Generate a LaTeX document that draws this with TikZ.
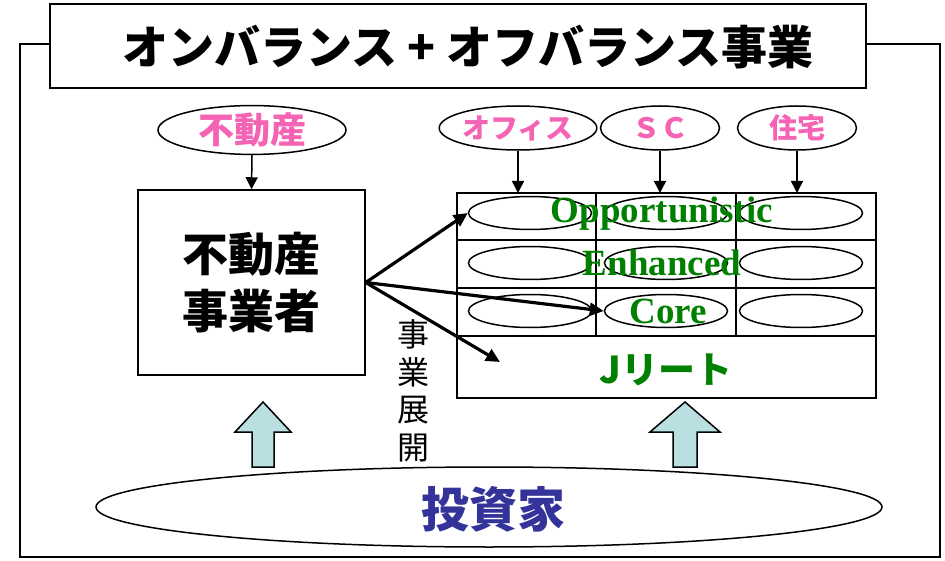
\documentclass[tikz,border=0pt]{standalone}
\usepackage{fontspec}
\setmainfont{Liberation Serif}
\newfontfamily\jp{Noto Sans CJK JP}
\usetikzlibrary{shapes.geometric,arrows.meta}
\definecolor{pinkt}{RGB}{245,100,180}
\definecolor{greent}{RGB}{0,128,0}
\definecolor{bluet}{RGB}{51,51,153}
\definecolor{arrowfill}{RGB}{185,223,224}
\tikzset{
  frame/.style={draw=black, line width=1.5pt},
  titlebox/.style={draw=black, line width=2pt, minimum width=816pt, minimum height=84pt, inner sep=0pt},
  titletext/.style={inner sep=0pt, font=\jp\bfseries\fontsize{46}{50}\selectfont},
  topell/.style={draw=black, line width=1.5pt, ellipse, inner sep=0pt, minimum height=44pt,
     font=\jp\bfseries\fontsize{28}{32}\selectfont, text=pinkt},
  devbox/.style={draw=black, line width=1.5pt, minimum width=227pt, minimum height=185pt, inner sep=0pt,
     align=center, font=\jp\bfseries\fontsize{46}{57}\selectfont},
  smallell/.style={draw=black, line width=1.5pt, ellipse, inner sep=0pt, minimum width=123pt, minimum height=33pt},
  gridline/.style={draw=black, line width=1.8pt},
  lat/.style={text=greent, font=\bfseries\fontsize{37}{40}\selectfont, inner sep=0pt},
  thin arrow/.style={draw=black, line width=1.5pt, -{Triangle[length=12pt,width=12pt]}},
  thick arrow/.style={draw=black, line width=3.2pt, -{Triangle[length=14pt,width=13pt]}},
  blockarrow/.style={draw=black, line width=1.5pt, fill=arrowfill},
}
\begin{document}
\begin{tikzpicture}[x=1pt,y=-1pt]
\useasboundingbox (0,0) rectangle (945,561);
% outer frame
\draw[frame] (50,44) -- (20,44) -- (20,557) -- (940,557) -- (940,44) -- (866,44);
\node[titlebox] (title) at (458,46) {};
\node[titletext] (titlet) at (468,47) {オンバランス + オフバランス事業};

% left part
\node[topell, minimum width=188pt, font=\jp\bfseries\fontsize{36}{40}\selectfont] (fudosan) at (252,130) {不動産};
\node[devbox] (dev) at (251.5,282.5) {不動産\\事業者};
\draw[thin arrow] (fudosan.south) -- (dev.north);

% top ellipses
\node[topell, minimum width=117pt] (office) at (518,128) {オフィス};
\node[topell, minimum width=119pt] (sc) at (660,128) {ＳＣ};
\node[topell, minimum width=119pt] (jutaku) at (797,128) {住宅};

% grid
\coordinate (gtop) at (457,193);
\draw[gridline] (gtop) rectangle (876,398);
\draw[gridline] (457,240) -- (876,240);
\draw[gridline] (457,288) -- (876,288);
\draw[gridline] (457,336) -- (876,336);
\draw[gridline] (596,193) -- (596,336);
\draw[gridline] (736,193) -- (736,336);

\draw[thin arrow] (office.south) -- (office.south |- gtop);
\draw[thin arrow] (sc.south) -- (sc.south |- gtop);
\draw[thin arrow] (jutaku.south) -- (jutaku.south |- gtop);

\node[smallell] (e11) at (530,213) {};
\node[smallell] (e12) at (666,213) {};
\node[smallell] (e13) at (801,213) {};
\node[smallell] (e21) at (530,263) {};
\node[smallell] (e22) at (666,263) {};
\node[smallell] (e23) at (801,263) {};
\node[smallell] (e31) at (530,311) {};
\node[smallell] (e32) at (666,311) {};
\node[smallell] (e33) at (801,311) {};

\node[lat] (opp) at (662,214) {Opportunistic};
\node[lat] (enh) at (662,263) {Enhanced};
\node[lat] (core) at (668,311) {Core};
\node[text=greent, font=\jp\bfseries\fontsize{37}{40}\selectfont, inner sep=0pt] (jreit) at (666,370) {Jリート};

% arrows from developer
\coordinate (jt) at (500,362);
\draw[thick arrow] (dev.east) -- (e11.west);
\draw[thick arrow] (dev.east) -- (e32.west);
\draw[thick arrow] (dev.east) -- (jt);

\node[align=center, inner sep=0pt, font=\jp\fontsize{32}{37.5}\selectfont] (tenkai) at (413,391) {事\\業\\展\\開};

% investors
\node[draw=black, line width=1.5pt, ellipse, minimum width=786pt, minimum height=80pt, inner sep=0pt] (inv) at (489,507) {};
\node[text=bluet, font=\jp\bfseries\fontsize{48}{52}\selectfont, inner sep=0pt] (invt) at (493,509) {投資家};

% block arrows
\draw[blockarrow] (252,467) -- (252,432) -- (235,432) -- (263,402) -- (291,432) -- (274,432) -- (274,467) -- cycle;
\draw[blockarrow] (673,467) -- (673,432) -- (650,432) -- (685,402) -- (720,432) -- (697,432) -- (697,467) -- cycle;
\end{tikzpicture}
\end{document}
